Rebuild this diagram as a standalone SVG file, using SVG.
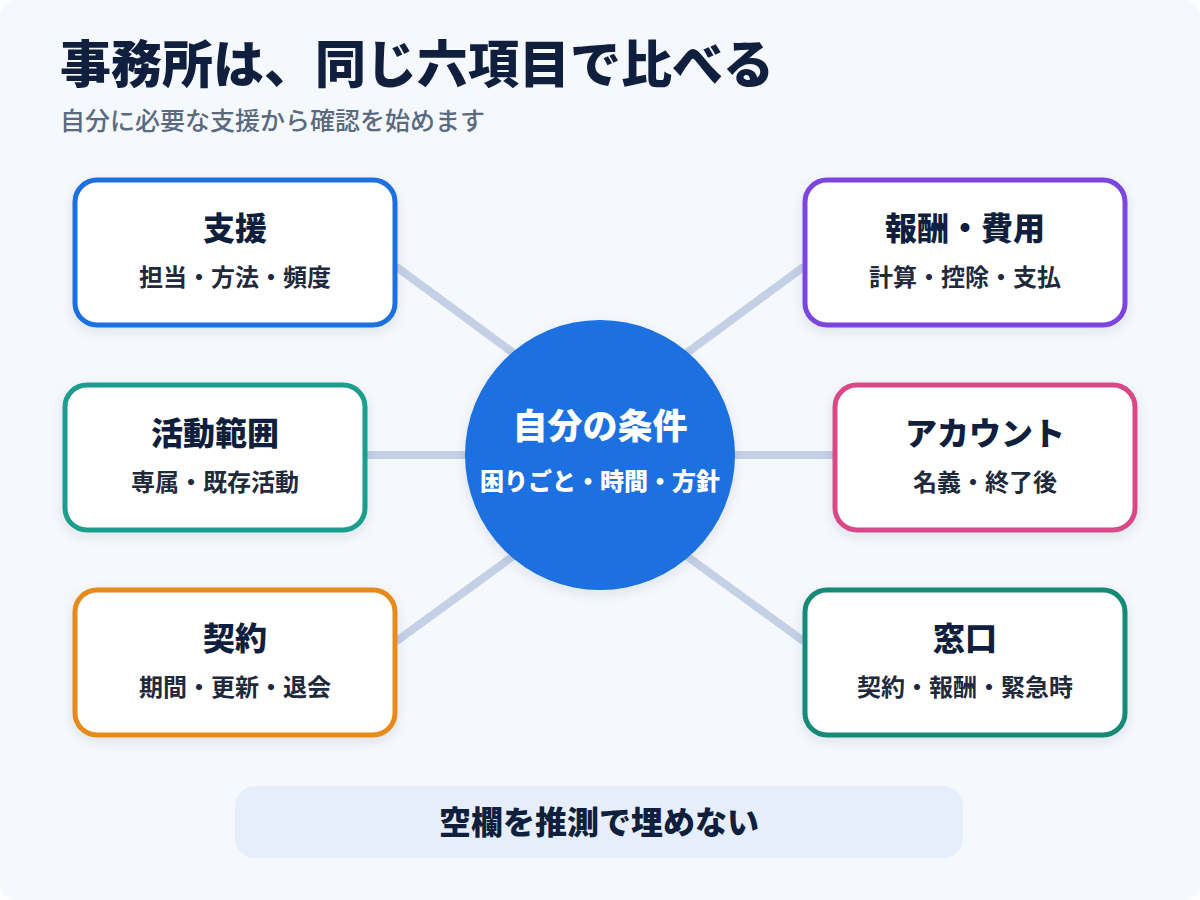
<svg xmlns="http://www.w3.org/2000/svg" width="1200" height="900" viewBox="0 0 1200 900">
<style>
text{font-family:"Noto Sans CJK JP","Noto Sans",sans-serif;font-weight:900;text-anchor:middle}
.box{fill:#fff;stroke-width:5}
.t{font-size:32px;fill:#0f1f3d}
.s{font-size:24px;fill:#1f2a3d;font-weight:700}
.c{stroke:#c3d0e6;stroke-width:8;stroke-linecap:round}
</style>
<defs><filter id="sh" x="-20%" y="-20%" width="140%" height="140%"><feDropShadow dx="0" dy="4" stdDeviation="6" flood-color="#1a2a4a" flood-opacity="0.1"/></filter></defs>
<rect x="0" y="0" width="1200" height="900" rx="16" fill="#f5f8fc"/>
<text x="60" y="83" style="font-size:51px;fill:#0f1f3d;text-anchor:start">事務所は、同じ六項目で比べる</text>
<text x="60" y="130" style="font-size:25px;fill:#5a6a80;text-anchor:start;font-weight:500">自分に必要な支援から確認を始めます</text>
<g id="connectors">
<line class="c" x1="398" y1="268" x2="512" y2="352"/>
<line class="c" x1="368" y1="455" x2="465" y2="455"/>
<line class="c" x1="398" y1="640" x2="512" y2="557"/>
<line class="c" x1="802" y1="268" x2="688" y2="352"/>
<line class="c" x1="835" y1="455" x2="735" y2="455"/>
<line class="c" x1="802" y1="640" x2="688" y2="557"/>
</g>
<g id="center"><circle cx="600" cy="455" r="135" fill="#1a6fe0" filter="url(#sh)"/>
<text x="600" y="439" style="font-size:35px;fill:#fff">自分の条件</text>
<text x="600" y="490" style="font-size:24px;fill:#fff">困りごと・時間・方針</text></g>
<g id="n1"><rect class="box" x="75" y="180" width="320" height="145" rx="22" stroke="#1a6fe0" filter="url(#sh)"/><text class="t" x="235" y="240">支援</text><text class="s" x="235" y="286">担当・方法・頻度</text></g>
<g id="n2"><rect class="box" x="65" y="385" width="300" height="145" rx="22" stroke="#1a9e8f" filter="url(#sh)"/><text class="t" x="215" y="445">活動範囲</text><text class="s" x="215" y="491">専属・既存活動</text></g>
<g id="n3"><rect class="box" x="75" y="590" width="320" height="145" rx="22" stroke="#e68a1a" filter="url(#sh)"/><text class="t" x="235" y="650">契約</text><text class="s" x="235" y="696">期間・更新・退会</text></g>
<g id="n4"><rect class="box" x="805" y="180" width="320" height="145" rx="22" stroke="#7b45e0" filter="url(#sh)"/><text class="t" x="965" y="240">報酬・費用</text><text class="s" x="965" y="286">計算・控除・支払</text></g>
<g id="n5"><rect class="box" x="835" y="385" width="300" height="145" rx="22" stroke="#d94a8a" filter="url(#sh)"/><text class="t" x="985" y="445">アカウント</text><text class="s" x="985" y="491">名義・終了後</text></g>
<g id="n6"><rect class="box" x="805" y="590" width="320" height="145" rx="22" stroke="#138a76" filter="url(#sh)"/><text class="t" x="965" y="650">窓口</text><text class="s" x="965" y="696">契約・報酬・緊急時</text></g>
<g id="note"><rect x="235" y="786" width="728" height="72" rx="20" fill="#e6eefb"/><text class="t" x="599" y="834">空欄を推測で埋めない</text></g>
</svg>
